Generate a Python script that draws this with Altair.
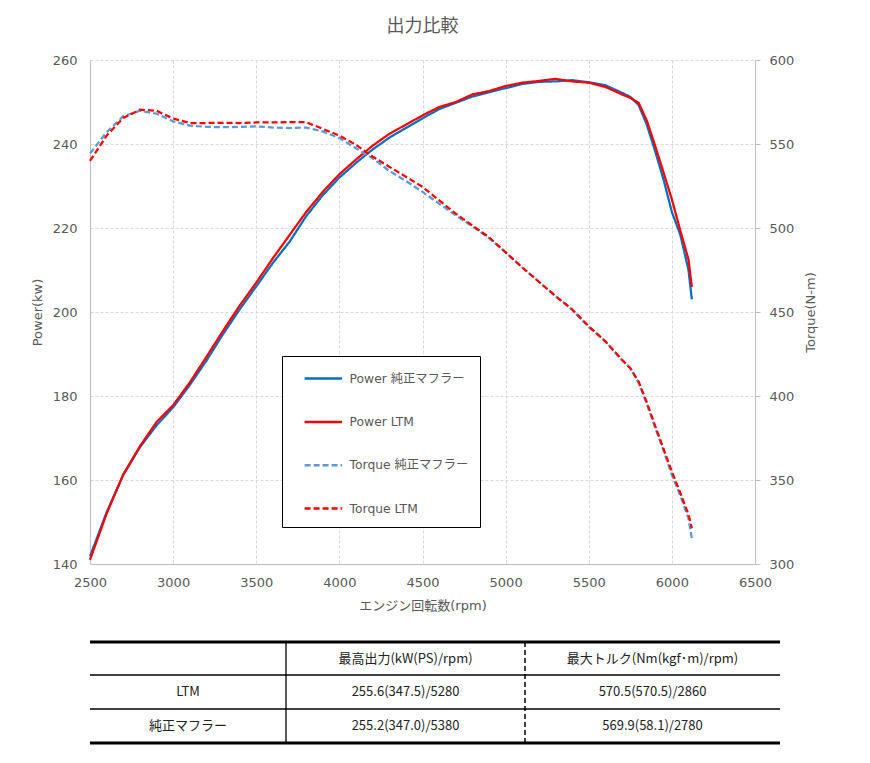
import altair as alt
import pandas as pd

# engine speed (rpm) shared by all four curves
rpm = [2500, 2600, 2700, 2800, 2900, 3000, 3100, 3200, 3300, 3400,
       3500, 3600, 3700, 3800, 3900, 4000, 4100, 4200, 4300, 4400,
       4500, 4600, 4700, 4800, 4900, 5000, 5100, 5200, 5300, 5400,
       5500, 5600, 5700, 5750, 5800, 5850, 5900, 5950, 6000, 6050,
       6100, 6120]

power_stock = [141.8, 152.3, 161.2, 167.8, 173.0, 177.3, 182.6, 188.4, 194.7, 200.6,
               206.1, 211.7, 216.7, 222.8, 227.8, 232.0, 235.5, 238.7, 241.5, 243.8,
               246.1, 248.3, 249.8, 251.3, 252.3, 253.3, 254.3, 254.8, 254.9, 255.2,
               254.7, 254.0, 252.2, 251.2, 249.3, 244.5, 238.2, 231.5, 223.8, 218.5,
               210.0, 203.0]

power_ltm = [141.0, 152.0, 161.3, 168.0, 173.8, 177.8, 183.2, 189.3, 195.5, 201.5,
             207.0, 212.8, 218.3, 223.8, 228.6, 232.8, 236.3, 239.6, 242.4, 244.6,
             246.8, 248.8, 250.0, 251.8, 252.6, 253.8, 254.6, 255.0, 255.5, 254.9,
             254.6, 253.6, 251.8, 251.0, 249.8, 245.5, 239.5, 233.2, 226.8, 219.5,
             212.5, 206.0]

torque_stock = [544.4, 557.0, 566.5, 569.8, 568.0, 563.5, 561.0, 560.2, 560.0, 560.2,
                560.5, 559.8, 559.5, 559.8, 557.5, 553.5, 547.5, 541.5, 534.0, 528.0,
                521.5, 514.5, 507.5, 501.0, 494.0, 485.5, 476.5, 468.0, 459.5, 451.5,
                441.0, 432.5, 421.5, 416.5, 408.0, 395.0, 381.0, 367.5, 353.0, 341.0,
                327.0, 315.3]

torque_ltm = [540.0, 555.0, 565.5, 570.4, 569.8, 565.2, 562.5, 562.5, 562.6, 562.5,
              562.8, 562.8, 563.0, 563.0, 559.0, 555.0, 549.5, 542.5, 536.5, 530.5,
              524.5, 516.5, 508.5, 501.5, 494.5, 485.5, 476.5, 468.0, 459.5, 451.5,
              441.5, 432.5, 421.5, 416.5, 408.5, 396.0, 382.0, 368.5, 355.0, 342.5,
              329.5, 321.3]

series_names = ["Power 純正マフラー", "Power LTM", "Torque 純正マフラー", "Torque LTM"]
series_colors = ["#0070C0", "#FF0000", "#5B9BD5", "#FF0000"]
series_dashes = [[1, 0], [1, 0], [6, 3], [6, 3]]

x_ticks = [2500, 3000, 3500, 4000, 4500, 5000, 5500, 6000, 6500]
power_ticks = [140, 160, 180, 200, 220, 240, 260]
torque_ticks = [300, 350, 400, 450, 500, 550, 600]

table_header = ["", "最高出力(kW(PS)/rpm)", "最大トルク(Nm(kgf･m)/rpm)"]
table_rows = [
    ["LTM", "255.6(347.5)/5280", "570.5(570.5)/2860"],
    ["純正マフラー", "255.2(347.0)/5380", "569.9(58.1)/2780"],
]

FONT = "DejaVu Sans, Noto Sans CJK JP"
TABLE_FONT = "Noto Sans CJK JP"
GREY = "#595959"

# table layout (pixels)
col_edges = [0, 196, 435, 690]
row_edges = [0, 33, 67, 101]

power_df = pd.concat([
    pd.DataFrame({"rpm": rpm, "power": power_stock, "series": series_names[0]}),
    pd.DataFrame({"rpm": rpm, "power": power_ltm, "series": series_names[1]}),
])
torque_df = pd.concat([
    pd.DataFrame({"rpm": rpm, "torque": torque_stock, "series": series_names[2]}),
    pd.DataFrame({"rpm": rpm, "torque": torque_ltm, "series": series_names[3]}),
])

legend = alt.Legend(
    orient="none", legendX=192, legendY=296,
    symbolType="M0,0H4", symbolSize=352, symbolStrokeWidth=2.5,
    padding=11.6, rowPadding=25.3, labelOffset=34,
    strokeColor="#000000", fillColor="white",
    labelFont=FONT, labelFontSize=12.3, labelColor=GREY, labelLimit=300,
)
color = alt.Color("series:N", title=None, legend=legend,
                  scale=alt.Scale(domain=series_names, range=series_colors))
dash = alt.StrokeDash("series:N", title=None, legend=legend,
                      scale=alt.Scale(domain=series_names, range=series_dashes))

x_enc = alt.X(
    "rpm:Q", title="エンジン回転数(rpm)",
    scale=alt.Scale(domain=[2500, 6500], nice=False),
    axis=alt.Axis(values=x_ticks, format="d", labelFlush=False, ticks=False,
                  labelPadding=12, titlePadding=10,
                  gridDash=[3, 2], gridColor="#D9D9D9", domainColor="#BFBFBF"),
)

power_line = alt.Chart(power_df).mark_line(strokeWidth=2.25).encode(
    x=x_enc,
    y=alt.Y("power:Q", title="Power(kw)",
            scale=alt.Scale(domain=[140, 260], nice=False, zero=False),
            axis=alt.Axis(orient="left", values=power_ticks, ticks=False, labelPadding=13,
                          titlePadding=8, gridDash=[3, 2], gridColor="#D9D9D9",
                          domainColor="#BFBFBF")),
    color=color,
    strokeDash=dash,
)

torque_line = alt.Chart(torque_df).mark_line(strokeWidth=2.25).encode(
    x=x_enc,
    y=alt.Y("torque:Q", title="Torque(N-m)",
            scale=alt.Scale(domain=[300, 600], nice=False, zero=False),
            axis=alt.Axis(orient="right", values=torque_ticks, grid=False, tickSize=5,
                          tickColor="#BFBFBF", labelPadding=9, titlePadding=24,
                          titleAngle=270, domainColor="#BFBFBF")),
    color=color,
    strokeDash=dash,
)

top = alt.layer(power_line, torque_line).resolve_scale(y="independent").properties(
    width=665, height=504,
    title=alt.TitleParams("出力比較", fontSize=18, font=FONT, color=GREY,
                          fontWeight="normal", offset=18),
)

# ---- table under the chart
cells = []
for r, row in enumerate([table_header] + table_rows):
    for c, label in enumerate(row):
        cells.append({
            "label": label,
            "x": (col_edges[c] + col_edges[c + 1]) / 2,
            "y": (row_edges[r] + row_edges[r + 1]) / 2,
        })
cells_df = pd.DataFrame(cells)

hlines_df = pd.DataFrame({
    "y": row_edges,
    "x1": [col_edges[0]] * len(row_edges),
    "x2": [col_edges[-1]] * len(row_edges),
    "w": [3, 1.5, 1.5, 3],
})
vlines_df = pd.DataFrame({
    "x": col_edges[1:3],
    "y1": [row_edges[0]] * 2,
    "y2": [row_edges[-1]] * 2,
    "kind": ["solid", "dashed"],
})

tx = alt.Scale(domain=[col_edges[0], col_edges[-1]], nice=False, zero=False)
ty = alt.Scale(domain=[row_edges[-1], row_edges[0]], nice=False, zero=False)

table_text = alt.Chart(cells_df).mark_text(
    font=TABLE_FONT, fontSize=13, color="#222222", baseline="middle"
).encode(
    x=alt.X("x:Q", scale=tx, axis=None),
    y=alt.Y("y:Q", scale=ty, axis=None),
    text="label:N",
)
table_h = alt.Chart(hlines_df).mark_rule(color="#000000").encode(
    x=alt.X("x1:Q", scale=tx, axis=None), x2="x2:Q",
    y=alt.Y("y:Q", scale=ty, axis=None),
    strokeWidth=alt.StrokeWidth("w:Q", scale=None),
)
table_v_solid = alt.Chart(vlines_df).transform_filter("datum.kind == 'solid'").mark_rule(
    color="#222222", strokeWidth=1.5
).encode(
    x=alt.X("x:Q", scale=tx, axis=None),
    y=alt.Y("y1:Q", scale=ty, axis=None), y2="y2:Q",
)
table_v_dash = alt.Chart(vlines_df).transform_filter("datum.kind == 'dashed'").mark_rule(
    color="#000000", strokeWidth=1.5, strokeDash=[5, 3]
).encode(
    x=alt.X("x:Q", scale=tx, axis=None),
    y=alt.Y("y1:Q", scale=ty, axis=None), y2="y2:Q",
)
table = alt.layer(table_v_solid, table_v_dash, table_h, table_text).properties(
    width=690, height=101
)

chart = alt.vconcat(top, table, spacing=28).properties(
    padding={"left": 23, "top": 10, "right": 5, "bottom": 5}
).configure_view(stroke=None).configure_axis(
    labelFont=FONT, labelFontSize=13, labelColor=GREY,
    titleFont=FONT, titleFontSize=13, titleColor=GREY, titleFontWeight="normal",
)

chart.save("out.html", embed_options={"renderer": "svg", "actions": False})
